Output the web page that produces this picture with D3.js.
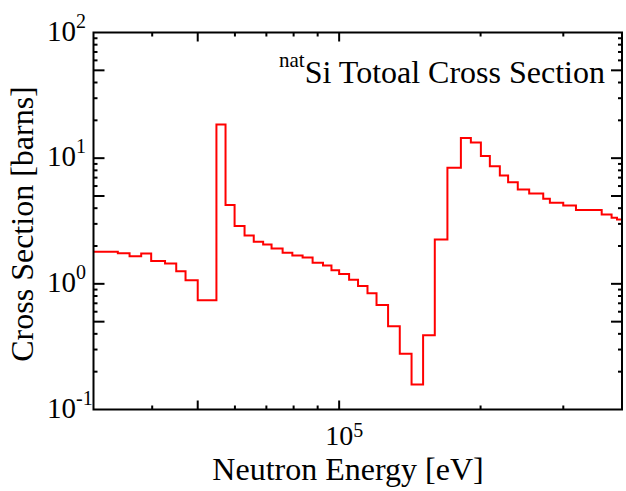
<!DOCTYPE html>
<html>
<head>
<meta charset="utf-8">
<script src="https://cdn.jsdelivr.net/npm/d3@7"></script>
<style>
  body { margin: 0; background: #fff; }
  text { font-family: "Liberation Serif", "Times New Roman", serif; fill: #000; }
</style>
</head>
<body>
<div id="container"></div>
<script>
// bin edges [eV] and cross section per bin [barns]
const edges = [30000, 33800, 35800, 37900, 39800, 42600, 45000, 47100, 50000, 54800,
  57300, 59900, 62900, 65800, 68900, 71800, 75800, 79500, 83600, 87800,
  92400, 96300, 100000, 105000, 109700, 114900, 120100, 127100, 134600, 142600,
  150900, 159800, 170000, 181600, 190700, 200300, 209300, 219800, 228900, 240000,
  253800, 271900, 280900, 299900, 319200, 362100, 380100, 390300, 400000];
const xsec = [1.80, 1.75, 1.66, 1.74, 1.52, 1.45, 1.26, 1.07, 0.74, 18.5,
  4.23, 2.88, 2.43, 2.16, 2.06, 1.91, 1.77, 1.68, 1.62, 1.47,
  1.40, 1.28, 1.20, 1.08, 0.96, 0.84, 0.68, 0.46, 0.278, 0.158,
  0.389, 2.25, 8.39, 14.5, 13.3, 10.4, 8.63, 7.28, 6.44, 5.64,
  5.24, 4.75, 4.42, 4.21, 3.86, 3.56, 3.36, 3.25];

const xMajor = [50000, 100000];
const xMinor = [40000, 60000, 70000, 80000, 90000, 200000, 300000];
const yMajor = [0.5, 1, 5, 10, 50];
const yMinor = [0.2, 0.3, 0.4, 0.6, 0.7, 0.8, 0.9, 2, 3, 4, 6, 7, 8, 9, 20, 30, 40, 60, 70, 80, 90];
const yLabelVals = [0.1, 1, 10, 100];
const yLabelExps = ["-1", "0", "1", "2"];
const xLabelVals = [100000];
const xLabelExps = ["5"];

const W = 626, H = 491;
const margin = { LEFT: 93.5, RIGHT: 4, TOP: 32.5, BOTTOM: 81.5 };

const svg = d3.select("#container").append("svg")
  .attr("width", W).attr("height", H);

const x = d3.scaleLog().domain([30000, 400000]).range([margin.LEFT, W - margin.RIGHT]);
const y = d3.scaleLog().domain([0.1, 100]).range([H - margin.BOTTOM, margin.TOP]);

const bottom = H - margin.BOTTOM, right = W - margin.RIGHT;

// step line
const pts = xsec.map((v, i) => [edges[i], v]);
pts.push([edges[edges.length - 1], xsec[xsec.length - 1]]);

const line = d3.line()
  .x(d => x(d[0]))
  .y(d => y(d[1]))
  .curve(d3.curveStepAfter);

svg.append("path")
  .datum(pts)
  .attr("d", line)
  .attr("fill", "none")
  .attr("stroke", "#ff0000")
  .attr("stroke-width", 2);

// ticks, inward on all four sides
const tickG = svg.append("g").attr("stroke", "#000").attr("stroke-width", 2);

function xTicks(vals, len) {
  vals.forEach(v => {
    tickG.append("line").attr("x1", x(v)).attr("x2", x(v))
      .attr("y1", bottom).attr("y2", bottom - len);
    tickG.append("line").attr("x1", x(v)).attr("x2", x(v))
      .attr("y1", margin.TOP).attr("y2", margin.TOP + len);
  });
}
function yTicks(vals, len) {
  vals.forEach(v => {
    tickG.append("line").attr("y1", y(v)).attr("y2", y(v))
      .attr("x1", margin.LEFT).attr("x2", margin.LEFT + len);
    tickG.append("line").attr("y1", y(v)).attr("y2", y(v))
      .attr("x1", right).attr("x2", right - len);
  });
}
xTicks(xMajor, 9);
xTicks(xMinor, 4);
yTicks(yMajor, 11);
yTicks(yMinor, 4);

// frame
svg.append("rect")
  .attr("x", margin.LEFT).attr("y", margin.TOP)
  .attr("width", right - margin.LEFT).attr("height", bottom - margin.TOP)
  .attr("fill", "none").attr("stroke", "#000").attr("stroke-width", 2);

// y tick labels
yLabelVals.forEach((v, i) => {
  const t = svg.append("text")
    .attr("x", 47).attr("y", y(v) + 8)
    .style("font-size", "29px");
  t.append("tspan").text("10");
  t.append("tspan").attr("dy", -13).style("font-size", "20px").text(yLabelExps[i]);
});

// x tick labels
xLabelVals.forEach((v, i) => {
  const t = svg.append("text")
    .attr("x", x(v) - 14).attr("y", 445)
    .style("font-size", "28px");
  t.append("tspan").text("10");
  t.append("tspan").attr("dy", -8).style("font-size", "20px").text(xLabelExps[i]);
});

// axis titles
svg.append("text")
  .attr("x", 348).attr("y", 480)
  .attr("text-anchor", "middle")
  .style("font-size", "32px")
  .text("Neutron Energy [eV]");

svg.append("text")
  .attr("transform", "translate(33,224) rotate(-90)")
  .attr("text-anchor", "middle")
  .style("font-size", "32px")
  .text("Cross Section [barns]");

// title
const title = svg.append("text")
  .attr("x", 605).attr("y", 83)
  .attr("text-anchor", "end");
title.append("tspan").attr("dy", -16).style("font-size", "21px").text("nat");
title.append("tspan").attr("dy", 16).style("font-size", "32px").text("Si Totoal Cross Section");
</script>
</body>
</html>
